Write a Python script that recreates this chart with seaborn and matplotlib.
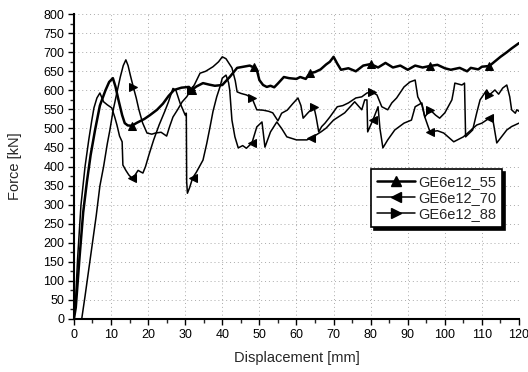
import numpy as np
import pandas as pd
import matplotlib
matplotlib.use("Agg")
import matplotlib.pyplot as plt
from matplotlib.lines import Line2D
from matplotlib.ticker import MultipleLocator
import seaborn as sns

# ---------------- data ----------------
x55 = [0, 0.5, 1.5, 2.5, 3.5, 4.5, 5.7, 7, 8.5, 9.5, 10.5, 11.2, 12, 13, 13.7, 14.5,
       15.6, 17, 19, 20.5, 22.4, 24, 25.5, 27, 29, 31, 31.8, 33, 34.8, 36.5, 38, 40,
       42, 44, 45.7, 47.4, 48.5, 49.3, 50, 51, 52, 53, 54, 55, 56.6, 58, 60, 61, 62.5,
       63.6, 65, 66.5, 68, 69, 70, 71, 72, 74, 76, 78, 80, 82, 84, 86, 88, 90, 92, 94,
       96, 98, 100, 101.6, 104, 106, 107, 109, 110, 112, 113, 115, 116.7, 118, 120]
y55 = [0, 30, 160, 280, 360, 430, 496, 560, 600, 622, 632, 610, 575, 535, 514, 508,
       507, 515, 525, 535, 549, 565, 585, 601, 607, 609, 601, 610, 619, 615, 612, 614,
       635, 659, 662, 665, 660, 654, 627, 614, 609, 612, 608, 618, 635, 632, 630, 635, 630,
       645, 648, 655, 668, 675, 688, 670, 654, 658, 650, 665, 669, 660, 672, 660, 665, 654,
       665, 660, 664, 667, 658, 654, 659, 650, 659, 655, 662, 664, 672, 688, 700, 710, 724]

x70 = [0, 0.5, 1, 1.9, 3, 4, 4.8, 5.4, 6.2, 7, 8, 9, 10.2, 11, 11.6, 12.3, 13, 13.2,
       14, 14.8, 15.6, 16.5, 17.3, 18, 18.6, 19.3, 20.2, 21.5, 23, 24.5, 25.5, 26.7,
       27.5, 28.6, 30, 30.3, 30.4, 30.6, 31.2, 32, 33, 34.8, 35.8, 36.7, 37.5, 38.5,
       39.4, 40, 41, 41.7, 42, 42.6, 43.4, 44.3, 45.5, 46.5, 48, 49.3, 50.7, 51.5, 53,
       54.7, 56, 57.4, 60, 62.8, 64, 66.6, 68, 70, 73, 75.7, 77.6, 78.4, 79, 79.2, 80.6,
       82, 82.5, 83.3, 84.6, 86.5, 89, 91, 92, 93.8, 94.6, 96, 98, 99.7, 102.4, 105,
       108.6, 110, 112, 113, 114, 116.7, 118, 120]
y70 = [0, 60, 160, 299, 400, 470, 520, 554, 580, 593, 570, 562, 554, 530, 509, 480, 465, 404,
       390, 378, 370, 378, 390, 386, 383, 400, 430, 470, 510, 545, 570, 605,
       600, 567, 535, 540, 360, 330, 345, 370, 385, 417, 460, 504, 545, 583,
       610, 632, 640, 620, 601, 522, 478, 449, 455, 448, 462, 504, 517, 451, 491,
       517, 500, 478, 470, 470, 475, 491, 501, 522, 541, 570, 549, 575, 575, 491, 522,
       557, 500, 449, 470, 496, 514, 522, 557, 567, 530, 491, 494, 488, 465, 478,
       509, 514, 527, 520, 462, 496, 505, 514]

x88 = [0, 2.1, 3, 4, 5, 6, 7, 8, 9, 9.7, 10.6, 11.5, 12.5, 13.3, 14, 14.6, 15.2, 16,
       16.8, 17.5, 18.5, 19.7, 21, 22, 23.5, 25, 25.8, 26.7, 28, 29.2, 30.4, 31.5, 32.5,
       34, 35.5, 37.5, 39, 40, 41, 42, 42.6, 43.5, 44, 45, 46.5, 48, 49.3, 51, 52.5,
       53.6, 55, 56, 57.5, 59, 60.4, 61.2, 61.8, 63, 64.7, 65.3, 66, 66.8, 67.7, 69, 71,
       72.5, 74, 76, 77.6, 79, 80.3, 81.7, 83, 84.6, 85.7, 87, 89, 90.6, 92, 92.7, 93.8,
       94.6, 96, 97.5, 98.6, 100, 101.9, 102.4, 102.7, 104.6, 105.3, 105.6, 107.5, 108.6,
       109.5, 111.3, 112, 113.5, 114.5, 115.6, 116.7, 117.5, 118, 119, 119.4, 120]
y88 = [0, 0, 60, 130, 200, 270, 349, 400, 460, 496, 549, 590, 635, 665, 680, 665, 640, 609,
       580, 550, 515, 488, 485, 488, 490, 480, 505, 530, 550, 570, 583, 600, 615,
       645, 650, 662, 675, 688, 683, 668, 659, 625, 596, 592, 588, 580, 549, 548, 545,
       541, 520, 540, 548, 565, 580, 560, 527, 540, 557, 530, 491, 505, 514, 530, 557,
       560, 567, 580, 583, 593, 596, 588, 557, 549, 567, 580, 609, 622, 627, 583, 562,
       530, 549, 535, 527, 541, 575, 601, 619, 614, 619, 478, 496, 541,
       575, 601, 588, 601, 590, 606, 614, 583, 549, 540, 549, 545]

labels = ["GE6e12_55", "GE6e12_70", "GE6e12_88"]
markers = ["^", "<", ">"]
widths = [1.8, 1.1, 1.1]
marker_x = [16, 32, 48, 64, 80, 96, 112]

# ---------------- figure ----------------
sns.set_theme(style="ticks")
plt.rcParams["font.family"] = ["Liberation Sans", "DejaVu Sans"]

fig = plt.figure(figsize=(5.28, 3.72), dpi=100)
ax = fig.add_axes([0.140, 0.1425, 0.843, 0.8195])

series = [(x55, y55), (x70, y70), (x88, y88)]
handles = []
for (xs, ys), lab, mk, lw in zip(series, labels, markers, widths):
    xa = np.asarray(xs, float)
    df = pd.DataFrame({"Displacement": xa, "Force": ys})
    idx = [int(np.argmin(np.abs(xa - m))) for m in marker_x]
    sns.lineplot(data=df, x="Displacement", y="Force", ax=ax, color="black",
                 lw=lw, sort=False, estimator=None, marker=mk, markersize=6,
                 markevery=idx, markeredgecolor="black", markerfacecolor="black",
                 legend=False)
    handles.append(Line2D([], [], color="black", lw=lw, marker=mk, markersize=7,
                          markerfacecolor="black", markeredgecolor="black", label=lab))

ax.set_xlim(0, 120)
ax.set_ylim(0, 800)
ax.xaxis.set_major_locator(MultipleLocator(10))
ax.xaxis.set_minor_locator(MultipleLocator(5))
ax.yaxis.set_major_locator(MultipleLocator(50))
ax.yaxis.set_minor_locator(MultipleLocator(25))
ax.tick_params(axis="both", which="major", direction="out", length=4, width=1,
               labelsize=9, colors="black", pad=3)
ax.tick_params(axis="both", which="minor", direction="out", length=3, width=1)

ax.grid(True, which="major", color="#aaaaaa", linestyle=(0, (1, 3)), lw=0.7)
sns.despine(ax=ax)
for s in ("left", "bottom"):
    ax.spines[s].set_linewidth(1.5)
    ax.spines[s].set_color("black")

ax.set_xlabel("Displacement [mm]", fontsize=10.5)
ax.set_ylabel("Force [kN]", fontsize=10.5)
ax.xaxis.set_label_coords(0.5, -0.105)
ax.yaxis.set_label_coords(-0.117, 0.5)

leg = ax.legend(handles=handles, loc="upper left", bbox_to_anchor=(0.667, 0.492),
                borderaxespad=0, frameon=True, fancybox=False,
                shadow={"color": "black", "alpha": 1.0},
                edgecolor="black", framealpha=1, fontsize=10.5,
                handlelength=2.6, handletextpad=0.25, labelspacing=0.15,
                borderpad=0.4)
leg.get_frame().set_linewidth(1.2)

fig.savefig("out.png", dpi=100)
